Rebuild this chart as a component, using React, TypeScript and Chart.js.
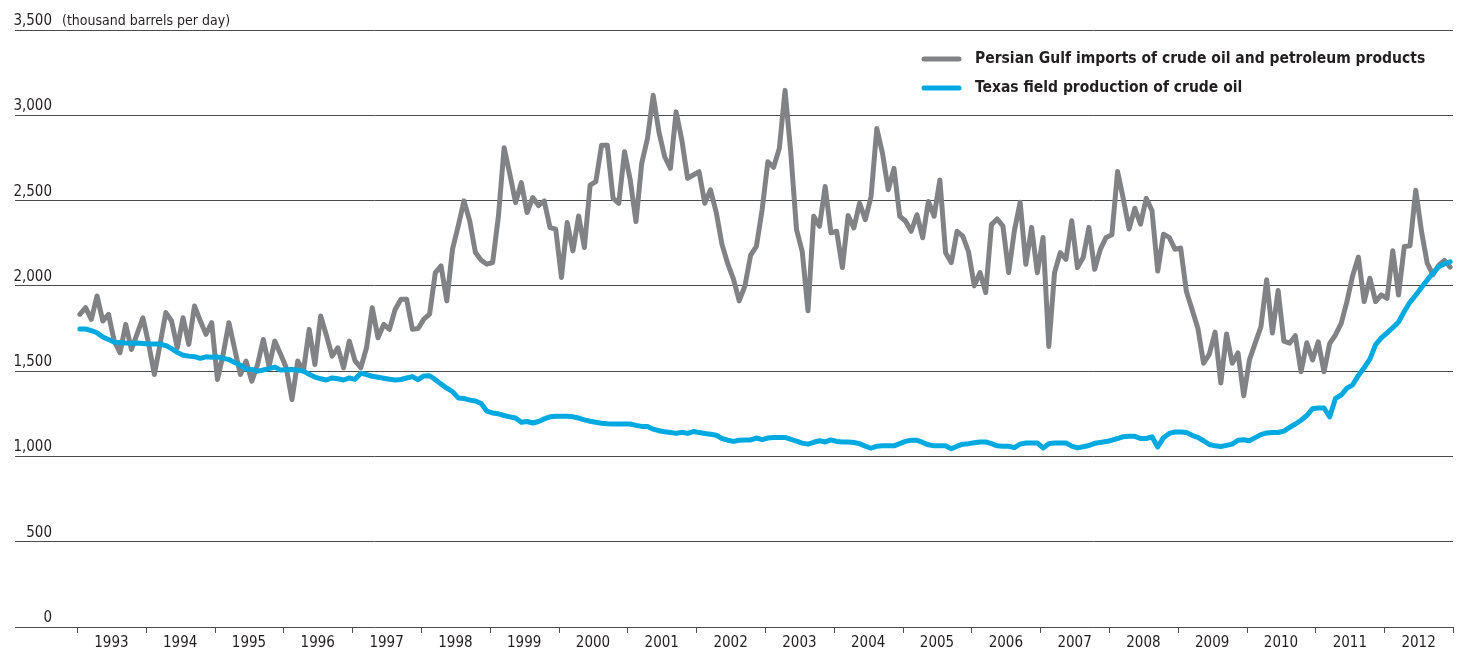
import React, { useEffect, useRef } from "react";
import { Chart, registerables } from "chart.js";

Chart.register(...registerables);

const YEARS = ["1993","1994","1995","1996","1997","1998","1999","2000","2001","2002","2003","2004","2005","2006","2007","2008","2009","2010","2011","2012"];

const Y_TICKS = [0, 500, 1000, 1500, 2000, 2500, 3000, 3500];
const UNIT_LABEL = "(thousand barrels per day)";
const SERIES_NAMES = ["Persian Gulf imports of crude oil and petroleum products", "Texas field production of crude oil"];

// monthly values, Jan 1993 - Dec 2012
const PERSIAN_GULF = [
  1833,1872,1804,1941,1794,1833,1676,1608,1774,1627,1720,1813,
  1660,1480,1660,1843,1794,1637,1813,1657,1882,1795,1716,1784,
  1451,1600,1784,1630,1480,1559,1441,1539,1686,1529,1676,1600,
  1520,1333,1559,1500,1745,1539,1823,1710,1588,1637,1520,1676,
  1560,1520,1637,1872,1696,1774,1745,1862,1921,1921,1745,1750,
  1805,1834,2078,2117,1912,2215,2352,2498,2380,2195,2150,2127,
  2137,2406,2810,2654,2488,2605,2430,2518,2470,2498,2342,2332,
  2049,2371,2205,2410,2225,2590,2611,2825,2825,2514,2484,2786,
  2620,2377,2718,2864,3117,2903,2757,2689,3020,2854,2630,2650,
  2669,2484,2563,2430,2243,2130,2040,1912,2000,2180,2232,2446,
  2728,2695,2806,3146,2780,2330,2200,1854,2408,2349,2582,2311,
  2320,2107,2412,2340,2485,2388,2524,2922,2777,2563,2689,2408,
  2380,2320,2417,2282,2495,2408,2621,2194,2136,2320,2291,2200,
  2000,2078,1961,2359,2392,2350,2078,2323,2490,2126,2343,2077,
  2284,1645,2077,2195,2156,2382,2107,2166,2343,2097,2215,2284,
  2300,2671,2510,2333,2455,2362,2514,2441,2087,2303,2284,2215,
  2222,1967,1860,1752,1546,1600,1729,1430,1718,1546,1607,1356,
  1566,1664,1760,2036,1724,1973,1676,1664,1708,1496,1667,1565,
  1672,1496,1663,1712,1780,1908,2060,2169,1908,2045,1908,1947,
  1927,2206,1947,2231,2235,2561,2320,2133,2065,2120,2149,2110
];

const TEXAS = [
  1747,1747,1738,1725,1700,1685,1670,1668,1665,1663,1665,1662,
  1659,1659,1659,1650,1632,1610,1593,1588,1585,1575,1584,1582,
  1584,1575,1568,1551,1535,1512,1510,1500,1507,1515,1524,1506,
  1508,1510,1506,1500,1482,1465,1455,1448,1460,1455,1448,1460,
  1452,1488,1480,1470,1464,1458,1452,1448,1451,1460,1468,1450,
  1472,1473,1450,1425,1400,1380,1343,1340,1330,1325,1310,1265,
  1255,1250,1240,1232,1225,1200,1205,1196,1205,1220,1232,1235,
  1235,1235,1232,1225,1214,1206,1200,1195,1192,1190,1190,1190,
  1190,1182,1176,1176,1160,1151,1145,1140,1135,1142,1135,1146,
  1140,1134,1130,1124,1105,1095,1088,1095,1097,1097,1108,1098,
  1108,1111,1111,1111,1100,1090,1078,1072,1083,1092,1085,1097,
  1088,1085,1085,1082,1075,1060,1048,1060,1062,1062,1062,1075,
  1088,1095,1095,1082,1068,1062,1062,1062,1045,1060,1072,1075,
  1080,1085,1085,1075,1062,1060,1060,1052,1072,1079,1079,1079,
  1050,1075,1079,1079,1079,1060,1050,1057,1064,1077,1082,1087,
  1095,1105,1116,1118,1118,1105,1105,1115,1055,1110,1135,1143,
  1143,1140,1124,1112,1092,1070,1062,1058,1065,1072,1095,1098,
  1092,1110,1128,1138,1140,1140,1148,1170,1190,1212,1240,1280,
  1284,1284,1232,1340,1360,1400,1420,1475,1520,1570,1655,1695,
  1725,1755,1788,1850,1905,1945,1990,2035,2075,2112,2130,2141
];

const GRAY = "#808285";
const BLUE = "#00a9e0";
const TEXT = "#231f20";
const GRID = "#4a4a4a";
const FONT = "'DejaVu Sans Condensed', 'Liberation Sans Narrow', 'Roboto', sans-serif";

const X_MIN = -10.81;
const X_MAX = 240;

const overlayPlugin = {
  id: "overlay",
  afterDraw(chart: any) {
    const ctx = chart.ctx;
    const xs = chart.scales.x;
    const ys = chart.scales.y;
    ctx.save();
    // y labels
    ctx.fillStyle = TEXT;
    ctx.textBaseline = "alphabetic";
    Y_TICKS.forEach((t) => {
      const y = ys.getPixelForValue(t);
      ctx.font = "15px " + FONT;
      ctx.textAlign = "right";
      ctx.fillText(t.toLocaleString("en-US"), 52, y - 5);
      if (t === Y_TICKS[Y_TICKS.length - 1]) {
        ctx.font = "14px " + FONT;
        ctx.textAlign = "left";
        ctx.fillText(UNIT_LABEL, 62, y - 5);
      }
    });
    // x tick marks and year labels
    ctx.strokeStyle = GRID;
    ctx.lineWidth = 1;
    const base = ys.getPixelForValue(0);
    for (let k = 0; k <= YEARS.length; k++) {
      const x = Math.round(xs.getPixelForValue(k * 12)) + 0.5;
      ctx.beginPath();
      ctx.moveTo(x, base);
      ctx.lineTo(x, base + 6);
      ctx.stroke();
    }
    ctx.font = "15px " + FONT;
    ctx.textAlign = "center";
    YEARS.forEach((yr, k) => {
      const x = xs.getPixelForValue(k * 12 + 6);
      ctx.fillText(yr, x, base + 20);
    });
    // legend
    const items = [
      { label: SERIES_NAMES[0], color: GRAY, y: 59 },
      { label: SERIES_NAMES[1], color: BLUE, y: 88 },
    ];
    ctx.font = "bold 15.5px " + FONT;
    ctx.textAlign = "left";
    ctx.textBaseline = "middle";
    items.forEach((it) => {
      ctx.strokeStyle = it.color;
      ctx.lineWidth = 5;
      ctx.lineCap = "round";
      ctx.beginPath();
      ctx.moveTo(924, it.y);
      ctx.lineTo(959, it.y);
      ctx.stroke();
      ctx.fillStyle = TEXT;
      ctx.fillText(it.label, 975, it.y);
    });
    ctx.restore();
  },
};

export default function App() {
  const ref = useRef<HTMLCanvasElement>(null);
  useEffect(() => {
    document.body.style.margin = "0";
    const canvas = ref.current;
    if (!canvas) return;
    const chart = new Chart(canvas, {
      type: "line",
      data: {
        datasets: [
          {
            label: SERIES_NAMES[0],
            data: PERSIAN_GULF.map((v, i) => ({ x: i + 0.5, y: v })),
            borderColor: GRAY,
            borderWidth: 5,
            pointRadius: 0,
            tension: 0,
            borderJoinStyle: "round",
            borderCapStyle: "round",
            order: 1,
          },
          {
            label: SERIES_NAMES[1],
            data: TEXAS.map((v, i) => ({ x: i + 0.5, y: v })),
            borderColor: BLUE,
            borderWidth: 5,
            pointRadius: 0,
            tension: 0,
            borderJoinStyle: "round",
            borderCapStyle: "round",
            order: 0,
          },
        ],
      },
      options: {
        animation: false,
        responsive: false,
        maintainAspectRatio: false,
        layout: { padding: { left: 15, right: 9, top: 30, bottom: 26 } },
        plugins: { legend: { display: false }, tooltip: { enabled: false } },
        scales: {
          x: {
            type: "linear",
            min: X_MIN,
            max: X_MAX,
            ticks: { display: false },
            grid: { display: false, drawTicks: false },
            border: { display: false },
          },
          y: {
            min: 0,
            max: 3500,
            ticks: { display: false, stepSize: 500 },
            grid: { color: GRID, lineWidth: 1, drawTicks: false },
            border: { display: false },
          },
        },
      },
      plugins: [overlayPlugin],
    });
    return () => chart.destroy();
  }, []);
  return (
    <div style={{ width: 1462, height: 653 }}>
      <canvas ref={ref} width={1462} height={653} style={{ display: "block" }} />
    </div>
  );
}
